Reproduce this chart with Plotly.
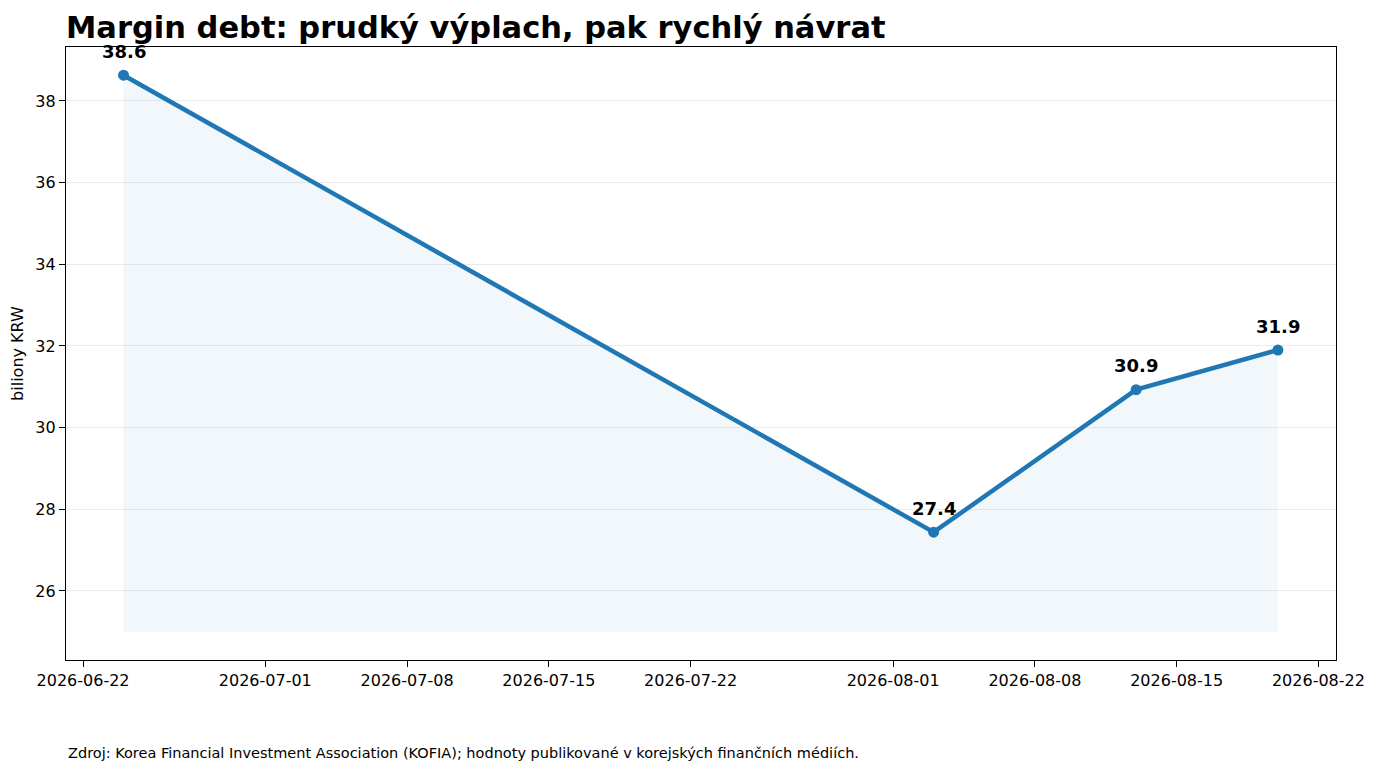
import plotly.graph_objects as go

dates = ["2026-06-24", "2026-08-03", "2026-08-13", "2026-08-20"]
values = [38.63, 27.44, 30.93, 31.9]
labels = ["38.6", "27.4", "30.9", "31.9"]
fill_base = 25.0

tick_dates = ["2026-06-22", "2026-07-01", "2026-07-08", "2026-07-15", "2026-07-22",
              "2026-08-01", "2026-08-08", "2026-08-15", "2026-08-22"]
y_ticks = [26, 28, 30, 32, 34, 36, 38]

title_text = "Margin debt: prudký výplach, pak rychlý návrat"
source_text = "Zdroj: Korea Financial Investment Association (KOFIA); hodnoty publikované v korejských finančních médiích."

blue = "#1f77b4"

# page body has an 8px margin, so the figure is a bit smaller than the window
W, H = 1362, 757

fig = go.Figure()
# base of the shaded area
fig.add_trace(go.Scatter(x=dates, y=[fill_base] * len(dates), mode="lines",
                         line=dict(width=0), hoverinfo="skip", showlegend=False))
fig.add_trace(go.Scatter(x=dates, y=values, mode="lines", fill="tonexty",
                         fillcolor="rgba(31,119,180,0.06)", line=dict(width=0),
                         hoverinfo="skip", showlegend=False))
fig.add_trace(go.Scatter(x=dates, y=values, mode="lines+markers",
                         line=dict(color=blue, width=4.5),
                         marker=dict(color=blue, size=11), showlegend=False))

for d, v, t in zip(dates, values, labels):
    fig.add_annotation(x=d, y=v, text="<b>%s</b>" % t, showarrow=False,
                       yshift=24, font=dict(size=18, color="black"))

fig.add_annotation(xref="paper", yref="paper", x=0, y=-0.1517, xanchor="left",
                   yanchor="middle", text=source_text, showarrow=False,
                   font=dict(size=14.5, color="black"))

fig.update_layout(
    width=W, height=H,
    paper_bgcolor="white", plot_bgcolor="white",
    font=dict(family="DejaVu Sans", color="black", size=16),
    margin=dict(l=58, r=34, t=39, b=105),
    title=dict(text="<b>%s</b>" % title_text, x=58 / W, xanchor="left",
               y=1 - 19 / H, yanchor="middle", font=dict(size=30.5, color="black")),
)
fig.update_xaxes(
    type="date", range=["2026-06-21 03:50", "2026-08-22 20:50"],
    tickvals=tick_dates, ticktext=tick_dates, automargin=False,
    showgrid=False, zeroline=False,
    showline=True, linecolor="black", linewidth=1.3, mirror=True,
    ticks="outside", ticklen=6, tickcolor="black", tickfont=dict(size=16),
)
fig.update_yaxes(
    range=[24.31, 39.32], tickvals=y_ticks, automargin=False,
    showgrid=True, gridcolor="rgba(0,0,0,0.08)", gridwidth=1, zeroline=False,
    showline=True, linecolor="black", linewidth=1.3, mirror=True,
    ticks="outside", ticklen=6, tickcolor="black", tickfont=dict(size=16),
    title=dict(text="biliony KRW", font=dict(size=16), standoff=10),
)

fig.write_html("out.html")
